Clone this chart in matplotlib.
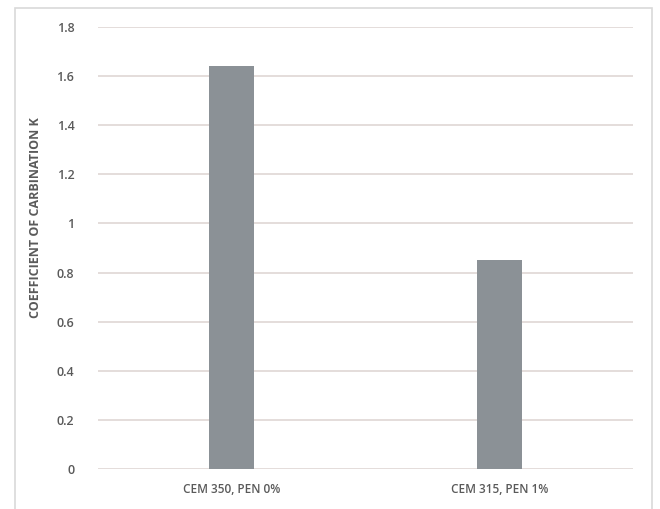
import matplotlib
matplotlib.use("Agg")
import matplotlib.pyplot as plt
from matplotlib.patches import Rectangle

categories = ["CEM 350, PEN 0%", "CEM 315, PEN 1%"]
values = [1.64, 0.85]
yticks = [0, 0.2, 0.4, 0.6, 0.8, 1, 1.2, 1.4, 1.6, 1.8]
ytick_labels = ["0", "0.2", "0.4", "0.6", "0.8", "1", "1.2", "1.4", "1.6", "1.8"]

plt.rcParams["font.family"] = ["Open Sans", "DejaVu Sans"]
text_color = "#5a5a5a"

W, H = 660, 509
fig = plt.figure(figsize=(W / 100, H / 100), dpi=100)
fig.patch.set_facecolor("white")

# chart frame
fig.patches.append(Rectangle((15 / W, -0.05), (652 - 15) / W, (H - 8) / H + 0.05,
                             transform=fig.transFigure, fill=False,
                             edgecolor="#d9d9d9", linewidth=1.2))

ax = fig.add_axes([98 / W, 1 - 469 / H, (633 - 98) / W, (469 - 27) / H])
x = range(len(categories))
ax.bar(x, values, width=0.17, color="#8b9196", zorder=3)
ax.set_xlim(-0.5, 1.5)
ax.set_ylim(0, 1.8)
ax.set_yticks(yticks)
ax.set_yticklabels(ytick_labels)
ax.set_xticks(list(x))
ax.set_xticklabels(categories)
ax.grid(axis="y", color="#e2dad8", linewidth=1.3, zorder=0)
for s in ax.spines.values():
    s.set_visible(False)
ax.tick_params(axis="both", length=0, colors=text_color)
ax.tick_params(axis="y", pad=17, labelsize=9)
ax.tick_params(axis="x", pad=10, labelsize=8.5)
for lbl in ax.get_yticklabels() + ax.get_xticklabels():
    lbl.set_fontweight("semibold")

fig.text(36 / W, 1 - 218 / H, "COEFFICIENT OF CARBINATION K", rotation=90,
         ha="center", va="center", fontsize=9, fontweight="bold",
         color=text_color)

fig.savefig("out.png", dpi=100, facecolor="white")
